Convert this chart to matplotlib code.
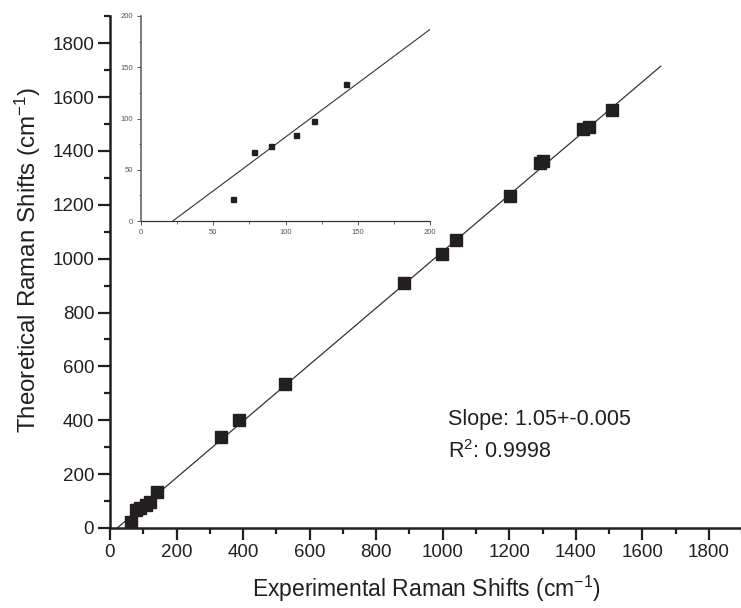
import matplotlib
matplotlib.use("Agg")
import matplotlib.pyplot as plt
from matplotlib.ticker import MultipleLocator

# ------------------------
# Data
# ------------------------
exp_shift = [64, 78, 90, 107, 120, 142, 334, 387, 526, 884, 999, 1041,
             1202, 1292, 1301, 1421, 1439, 1508]
theo_shift = [21, 67, 73, 84, 98, 134, 337, 401, 535, 911, 1017, 1069,
              1233, 1355, 1363, 1482, 1489, 1552]

fit_slope = 1.05
fit_intercept = -23.1
fit_x_main = [22, 1655]
fit_x_inset = [22, 200]

slope_text = "Slope: 1.05+-0.005"
r2_text = "R$^2$: 0.9998"

# ------------------------
# Style
# ------------------------
plt.rcParams["font.family"] = ["Liberation Sans", "DejaVu Sans"]
plt.rcParams["mathtext.fontset"] = "custom"
plt.rcParams["mathtext.rm"] = "Liberation Sans"
plt.rcParams["mathtext.it"] = "Liberation Sans"
ink = "#231f20"

fig = plt.figure(figsize=(7.41, 6.08), dpi=100)

# Main axes
ax = fig.add_axes([0.1484, 0.1316, 0.8533, 0.8416])
ax.plot(fit_x_main, [fit_slope * v + fit_intercept for v in fit_x_main],
        color="#333333", lw=0.9, zorder=2)
ax.plot(exp_shift, theo_shift, ls="none", marker="s", ms=8.6,
        color=ink, mec=ink, zorder=3)

ax.set_xlim(0, 1900)
ax.set_ylim(0, 1900)
ax.xaxis.set_major_locator(MultipleLocator(200))
ax.xaxis.set_minor_locator(MultipleLocator(100))
ax.yaxis.set_major_locator(MultipleLocator(200))
ax.yaxis.set_minor_locator(MultipleLocator(100))
for side in ("top", "right"):
    ax.spines[side].set_visible(False)
for side in ("left", "bottom"):
    ax.spines[side].set_linewidth(1.8)
    ax.spines[side].set_color(ink)
ax.tick_params(which="major", direction="out", length=8.4, width=1.6,
               labelsize=13.5, colors=ink, pad=3)
ax.tick_params(which="minor", direction="out", length=4.3, width=1.6, colors=ink)
ax.set_xlabel("Experimental Raman Shifts (cm$^{-1}$)", fontsize=16.5,
              color=ink, labelpad=9)
ax.set_ylabel("Theoretical Raman Shifts (cm$^{-1}$)", fontsize=17.4, color=ink)
ax.yaxis.set_label_coords(-0.106, 0.524)

# fit statistics
fig.text(448 / 741, 1 - 425 / 608, slope_text, fontsize=15.5, color=ink,
         ha="left", va="baseline")
fig.text(448 / 741, 1 - 458 / 608, r2_text, fontsize=15.5, color=ink,
         ha="left", va="baseline")

# Inset axes (low-frequency zoom)
axi = fig.add_axes([141 / 741, 1 - 221 / 608, 289 / 741, 205 / 608])
ix = [x for x in exp_shift if x < 200]
iy = [y for x, y in zip(exp_shift, theo_shift) if x < 200]
axi.plot(fit_x_inset, [fit_slope * v + fit_intercept for v in fit_x_inset],
         color="#333333", lw=0.8, zorder=2)
axi.plot(ix, iy, ls="none", marker="s", ms=3.6, color=ink, mec=ink, zorder=3)
axi.set_xlim(0, 200)
axi.set_ylim(0, 200)
axi.patch.set_alpha(0)
axi.xaxis.set_major_locator(MultipleLocator(50))
axi.xaxis.set_minor_locator(MultipleLocator(25))
axi.yaxis.set_major_locator(MultipleLocator(50))
axi.yaxis.set_minor_locator(MultipleLocator(25))
for side in ("top", "right"):
    axi.spines[side].set_visible(False)
axi.spines["left"].set_linewidth(1.2)
axi.spines["left"].set_color("#666666")
axi.spines["bottom"].set_linewidth(0.9)
axi.spines["bottom"].set_color("#333333")
axi.tick_params(which="major", direction="out", length=3, width=0.7,
                labelsize=5.5, colors="#555555", pad=3)
axi.tick_params(which="minor", direction="out", length=1.8, width=0.6,
                colors="#555555")

fig.savefig("out.png", dpi=100)
